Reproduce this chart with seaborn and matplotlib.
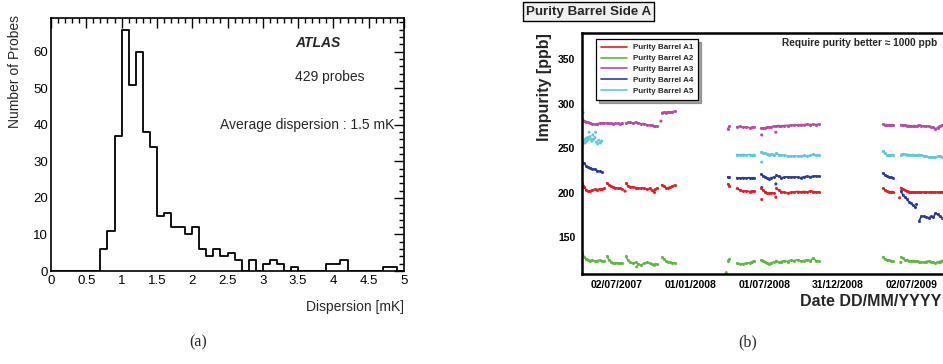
import matplotlib
matplotlib.use("Agg")
import matplotlib.pyplot as plt
import matplotlib.dates as mdates
from matplotlib.lines import Line2D
from matplotlib.ticker import MultipleLocator, FixedLocator, FixedFormatter
import seaborn as sns
import numpy as np
import pandas as pd

nan = np.nan

# ---- (a) dispersion histogram, 0.1 mK bins from 0 to 5 mK
bin_edges = [round(0.1 * i, 1) for i in range(51)]
probe_counts = [0, 0, 0, 0, 0, 0, 0, 6, 11, 37,
                66, 51, 60, 38, 34, 15, 16, 12, 12, 10,
                12, 6, 4, 6, 4, 5, 3, 0, 3, 0,
                2, 3, 2, 0, 1, 0, 0, 0, 0, 2,
                2, 3, 0, 0, 0, 0, 0, 1, 1, 0]

# ---- (b) purity monitors, samples (None = gap in data taking)
sample_dates = [
    "2007-04-07", "2007-04-12", "2007-04-17", "2007-04-22", "2007-04-27", "2007-05-02",
    "2007-05-08", "2007-05-14", "2007-05-20", "2007-05-26", "2007-06-01", None,
    "2007-06-07", "2007-06-12", "2007-06-17", "2007-06-22", "2007-06-27", "2007-07-04",
    "2007-07-09", "2007-07-14", None,
    "2007-07-24", "2007-07-29", "2007-08-03", "2007-08-10", "2007-08-17", "2007-08-24",
    "2007-08-31", "2007-09-07", "2007-09-14", "2007-09-21", "2007-09-26", "2007-10-01",
    "2007-10-05", "2007-10-09", None,
    "2007-10-21", "2007-10-26", "2007-10-31", "2007-11-05", "2007-11-10", "2007-11-16",
    "2007-11-22", None,
    "2008-04-02", "2008-04-06", None,
    "2008-04-24", "2008-05-02", "2008-05-10", "2008-05-18", "2008-05-26", "2008-06-02",
    "2008-06-07", None,
    "2008-06-24", "2008-06-29", "2008-07-04", "2008-07-09", "2008-07-14", "2008-07-19",
    "2008-07-26", None,
    "2008-07-31", "2008-08-06", "2008-08-12", "2008-08-20", "2008-08-28", "2008-09-05",
    "2008-09-14", "2008-09-22", "2008-09-30", "2008-10-08", "2008-10-16", "2008-10-24",
    "2008-10-31", "2008-11-06", "2008-11-15", None,
    "2009-04-21", "2009-04-26", "2009-05-01", "2009-05-06", "2009-05-11", "2009-05-16", None,
    "2009-06-05", "2009-06-10", "2009-06-15", "2009-06-20", "2009-06-25", "2009-06-30",
    "2009-07-05", "2009-07-10", None,
    "2009-07-16", "2009-07-20", "2009-07-26", "2009-08-01", "2009-08-07", "2009-08-13",
    "2009-08-19", "2009-08-25", "2009-08-30", "2009-09-04", "2009-09-09", "2009-09-15",
    "2009-09-22", "2009-09-28",
]

a1_vals = [211, 207, 203, 202, 202.5, 203, 204, 203.5, 204.5, 204, 205, None,
           211, 209, 207.5, 206.5, 206, 205, 205, 204.5, None,
           211, 208, 207, 206.5, 206, 205.5, 205, 205.5, 204, 205, 203, 201, 204, 205, None,
           209, 207.5, 206, 205.5, 206.5, 207.5, 208.5, None,
           210, 207.5, None,
           205, 203, 202, 202, 201.5, 202, 202, None,
           205, 203, 201, 200, 199.5, 200, 200, None,
           205, 203, 201.5, 200.5, 200, 200.5, 201, 201.5, 201, 201.5, 201, 202, 201.5, 201, 201, None,
           205, 203.5, 202, 201.5, 201, 201.5, None,
           206, 204, 203, 202, 201.5, 201, 201, 200.5, None,
           201, 201, 200.5, 201, 201, 200.5, 201, 200.5, 201, 200.5, 201, 201, 200.5, 201]

a2_vals = [132, 128, 126, 125, 124, 124.5, 123.5, 124, 124.5, 123.5, 124, None,
           129, 125, 123, 121.5, 121, 121.5, 121, 121.5, None,
           129, 125, 122, 121, 122, 120, 119, 121, 122, 121, 120.5, 119, 120, 120, None,
           128, 125.5, 124, 123, 122, 121, 121.5, None,
           124, 126, None,
           121, 120.5, 120.5, 121, 121.5, 123, 124, None,
           125, 124, 122.5, 121, 120.5, 121.5, 122.5, None,
           124, 122, 123, 124, 123, 124.5, 124, 125, 123.5, 124, 125, 124, 127, 124, 123.5, None,
           128, 126, 125, 124.5, 124, 123.5, None,
           128, 126.5, 125, 124.5, 124, 123.5, 124, 123.5, None,
           123.5, 123, 122.5, 122, 123, 123.5, 123, 122, 121.5, 122.5, 123, 124, 124, 124]

a3_vals = [282.5, 281, 280, 279, 278, 277.5, 277, 277.5, 278, 278.5, 278.5, None,
           278.5, 278, 278, 277.5, 278, 278, 277.5, 278, None,
           278, 279, 279, 278.5, 279, 278.5, 277.5, 277.5, 276.5, 276, 276, 274.5, 274.5, 275, None,
           290, 290.5, 290, 291, 290.5, 291, 291.5, None,
           272, 275, None,
           274, 274.5, 273.5, 274, 273, 273.5, 274, None,
           273, 272.5, 273, 273.5, 274, 274, 275, None,
           275, 275.5, 275, 275.5, 275.5, 276, 276, 276, 276.5, 276.5, 277, 276.5, 277, 276.5, 277, None,
           277, 276.5, 276.5, 276, 276, 276.5, None,
           276.5, 276, 276, 275.5, 275.5, 275, 275, 275.5, None,
           275.5, 276, 275.5, 275, 275, 274.5, 274, 273.5, 272, 273, 275, 276, 276, 276]

a4_vals = [235, 233, 230, 228.5, 228, 227, 226.5, 225, 224, 223.5, nan, None,
           nan, nan, nan, nan, nan, nan, nan, nan, None,
           nan, nan, nan, nan, nan, nan, nan, nan, nan, nan, nan, nan, nan, nan, None,
           nan, nan, nan, nan, nan, nan, nan, None,
           218, 217.5, None,
           217, 216.5, 217, 216.5, 217, 216.5, 217, None,
           221, 219, 218, 216.5, 216, 217, 217.5, None,
           219.5, 218.5, 217, 217.5, 218, 217.5, 218, 217.5, 217, 218, 218.5, 218, 218.5, 219, 218.5, None,
           222, 220.5, 219, 218, 217.5, 217, None,
           202, 198, 195.5, 193, 190, 188.5, 186, 184.5, None,
           nan, 168, 174, 173.5, 173, 172, 173.5, 172.5, 177.5, 176, 174, 172, 171, 170]

a5_vals = [nan, nan, nan, nan, nan, nan, nan, nan, nan, nan, nan, None,
           nan, nan, nan, nan, nan, nan, nan, nan, None,
           nan, nan, nan, nan, nan, nan, nan, nan, nan, nan, nan, nan, nan, nan, None,
           nan, nan, nan, nan, nan, nan, nan, None,
           nan, nan, None,
           243, 242.5, 243, 242.5, 243, 242.5, 243, None,
           246, 245, 244.5, 244, 243, 243.5, 243, None,
           245, 243, 242.5, 242, 241.5, 241, 241.5, 241, 241.5, 242, 241.5, 242, 243.5, 242, 242.5, None,
           247, 244.5, 243, 242, 242.5, 243, None,
           243, 244, 243.5, 243, 243, 242.5, 243, 242.5, None,
           242.5, 243, 242.5, 241.5, 241, 240, 240.5, 240, 240, 241, 241, 240.5, 241, 241]

# A5 was noisy in spring 2007: scattered readings
a5_early_dates = ["2007-04-07", "2007-04-08", "2007-04-09", "2007-04-10", "2007-04-12",
                  "2007-04-14", "2007-04-16", "2007-04-18", "2007-04-20", "2007-04-22",
                  "2007-04-24", "2007-04-26", "2007-04-29", "2007-05-01", "2007-05-03",
                  "2007-05-05", "2007-05-08", "2007-05-10", "2007-05-12", "2007-05-15",
                  "2007-05-18", "2007-05-22", "2007-05-25"]
a5_early_vals = [252, 255, 290, 257, 259, 256, 261, 258, 262, 260, 268, 263, 260, 258, 265,
                 260, 262, 268, 257, 255, 259, 256, 258]

# isolated readings
out_series = ["Purity Barrel A1", "Purity Barrel A1", "Purity Barrel A1", "Purity Barrel A1",
              "Purity Barrel A2", "Purity Barrel A2", "Purity Barrel A2",
              "Purity Barrel A3", "Purity Barrel A3", "Purity Barrel A3",
              "Purity Barrel A4", "Purity Barrel A4", "Purity Barrel A4",
              "Purity Barrel A5"]
out_dates = ["2007-07-22", "2008-06-25", "2008-07-30", "2009-06-02",
             "2008-03-29", "2009-06-05", "2007-08-20",
             "2007-10-19", "2008-06-25", "2008-07-30",
             "2008-06-25", "2008-07-30", "2009-07-14",
             "2008-06-25"]
out_vals = [202, 192.5, 195, 194.5,
            110.5, 122, 117,
            280.5, 265, 268,
            206, 210, 187,
            234.5]

series_names = ["Purity Barrel A1", "Purity Barrel A2", "Purity Barrel A3",
                "Purity Barrel A4", "Purity Barrel A5"]
series_colors = ["#e41e26", "#5fb843", "#b84aa8", "#2c3e99", "#5ccadc"]
date_ticks = ["2007-07-02", "2008-01-01", "2008-07-01", "2008-12-31", "2009-07-02"]

# ---- build long tables
hist_df = pd.DataFrame({"disp": [e + 0.05 for e in bin_edges[:-1]], "n": probe_counts})

rows = []
for name, vals in zip(series_names, [a1_vals, a2_vals, a3_vals, a4_vals, a5_vals]):
    seg = 0
    for d, v in zip(sample_dates, vals):
        if d is None:
            seg += 1
            continue
        rows.append((name, seg, pd.Timestamp(d), v))
trend = pd.DataFrame(rows, columns=["series", "seg", "date", "ppb"]).dropna()

spots = pd.DataFrame({
    "series": out_series + ["Purity Barrel A5"] * len(a5_early_dates),
    "date": pd.to_datetime(out_dates + a5_early_dates),
    "ppb": out_vals + a5_early_vals,
})
palette = dict(zip(series_names, series_colors))

sns.set_theme(style="white")
plt.rcParams["font.family"] = ["Liberation Sans", "DejaVu Sans"]

W, H = 943, 364
fig = plt.figure(figsize=(W / 100, H / 100), dpi=100)

# ================= (a)
ax1 = fig.add_axes([51 / W, 1 - 271 / H, 353 / W, 253.3 / H])
sns.histplot(data=hist_df, x="disp", weights="n", bins=bin_edges, element="step",
             fill=False, color="black", linewidth=1.3, ax=ax1)
ax1.set_xlim(0, 5)
ax1.set_ylim(0, 69.3)
ax1.set_xlabel("")
ax1.set_ylabel("")
ax1.xaxis.set_major_locator(MultipleLocator(0.5))
ax1.xaxis.set_minor_locator(MultipleLocator(0.1))
ax1.yaxis.set_major_locator(MultipleLocator(10))
ax1.yaxis.set_minor_locator(MultipleLocator(2))
ax1.xaxis.set_major_formatter(matplotlib.ticker.FuncFormatter(lambda v, p: f"{v:g}"))
ax1.tick_params(which="both", direction="in", top=True, right=True, width=1,
                labelsize=9.5, colors="black")
ax1.tick_params(which="major", length=7)
ax1.tick_params(which="minor", length=3.5)
ax1.tick_params(axis="x", pad=3)
ax1.tick_params(axis="y", pad=2)
for s in ax1.spines.values():
    s.set_linewidth(1.2)
    s.set_color("black")

ax1.text(0.756, 0.90, "ATLAS", transform=ax1.transAxes, ha="center", va="center",
         fontsize=10, fontweight="bold", fontstyle="italic")
ax1.text(0.79, 0.766, "429 probes", transform=ax1.transAxes, ha="center", va="center",
         fontsize=10)
ax1.text(0.972, 0.576, "Average dispersion : 1.5 mK", transform=ax1.transAxes,
         ha="right", va="center", fontsize=10)
fig.text(15 / W, 1 - 15 / H, "Number of Probes", rotation=90, ha="center", va="top",
         fontsize=10)
fig.text(404 / W, 1 - 307 / H, "Dispersion [mK]", ha="right", va="center", fontsize=10)
fig.text(198 / W, 1 - 342 / H, "(a)", ha="center", va="center", fontsize=11.5,
         family=["Liberation Serif", "DejaVu Serif"])

# ================= (b)
ax2 = fig.add_axes([582.3 / W, 1 - 274 / H, (950 - 582.3) / W, (274 - 33.3) / H])
sns.lineplot(data=trend, x="date", y="ppb", hue="series", units="seg", estimator=None,
             palette=palette, linewidth=1.3, marker="o", markersize=2.2,
             markeredgewidth=0, legend=False, ax=ax2)
sns.scatterplot(data=spots, x="date", y="ppb", hue="series", palette=palette, s=5,
                linewidth=0, legend=False, ax=ax2)
ax2.set_xlim(pd.Timestamp("2007-04-07"), pd.Timestamp("2009-10-05"))
ax2.set_ylim(109, 379)
ax2.set_xlabel("")
ax2.set_ylabel("")

major = [mdates.date2num(pd.Timestamp(d)) for d in date_ticks]
step = (major[-1] - major[0]) / 4 / 5
minor = [major[0] + k * step for k in range(-3, 30)]
ax2.xaxis.set_major_locator(FixedLocator(major))
ax2.xaxis.set_major_formatter(FixedFormatter([pd.Timestamp(d).strftime("%d/%m/%Y") for d in date_ticks]))
ax2.xaxis.set_minor_locator(FixedLocator(minor))
ax2.yaxis.set_major_locator(MultipleLocator(50))
ax2.yaxis.set_minor_locator(MultipleLocator(10))
ax2.tick_params(which="both", direction="in", width=1.2, labelsize=7.5, colors="black")
ax2.tick_params(which="major", length=8)
ax2.tick_params(which="minor", length=4)
ax2.tick_params(axis="x", pad=4)
ax2.tick_params(axis="y", pad=5)
for lab in ax2.get_xticklabels() + ax2.get_yticklabels():
    lab.set_fontweight("bold")
for s in ax2.spines.values():
    s.set_linewidth(1.8)
    s.set_color("black")

handles = [Line2D([], [], color=c, lw=1.2) for c in series_colors]
leg = ax2.legend(handles, series_names, loc="upper left",
                 bbox_to_anchor=(596 / W, 1 - 39 / H), bbox_transform=fig.transFigure,
                 frameon=True, fancybox=False, shadow=True, edgecolor="black",
                 prop=dict(weight="bold", size=5.8), handlelength=3.2,
                 borderpad=0.6, labelspacing=0.4, borderaxespad=0)
leg.get_frame().set_linewidth(0.9)

ax2.text(937 / W, 1 - 42.7 / H, "Require purity better \u2248 1000 ppb",
         transform=fig.transFigure, ha="right", va="center", fontsize=7.3,
         fontweight="bold")
fig.text(526 / W, 1 - 11.5 / H, "Purity Barrel Side A", ha="left", va="center",
         fontsize=9.6, fontweight="bold",
         bbox=dict(boxstyle="square,pad=0.25", fc="#f0f0f0", ec="black", lw=1))
fig.text(545 / W, 1 - 33 / H, "Impurity [ppb]", rotation=90, ha="center", va="top",
         fontsize=11.5, fontweight="bold")
fig.text(941 / W, 1 - 301.7 / H, "Date DD/MM/YYYY", ha="right", va="center",
         fontsize=11.5, fontweight="bold")
fig.text(748 / W, 1 - 342 / H, "(b)", ha="center", va="center", fontsize=11.5,
         family=["Liberation Serif", "DejaVu Serif"])

fig.savefig("out.png", dpi=100)
